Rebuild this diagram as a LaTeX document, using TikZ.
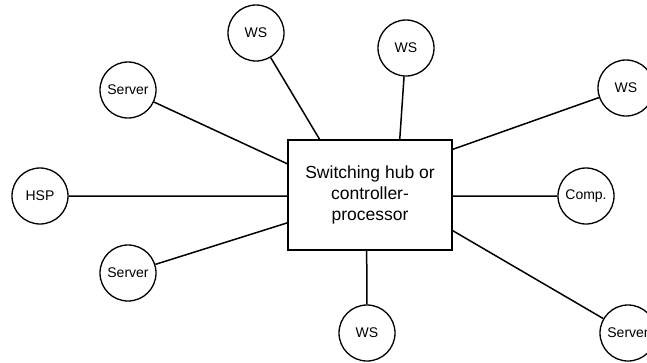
\documentclass[tikz,border=0pt]{standalone}
\usepackage{fontspec}
\setmainfont{Liberation Sans}
\usetikzlibrary{calc}
\tikzset{
  station/.style={draw, circle, line width=1.3pt, minimum size=56pt, inner sep=0pt,
                  font=\fontsize{14}{16}\selectfont},
  hubbox/.style={draw, rectangle, line width=1.3pt, minimum width=164pt, minimum height=110pt,
                 inner sep=0pt, align=center, font=\fontsize{17.5}{21}\selectfont},
  link/.style={line width=1.5pt}
}
\begin{document}
\begin{tikzpicture}[x=1pt, y=-1pt]
  \useasboundingbox (0,0) rectangle (647,362);

  % central hub
  \node[hubbox] (hub) at (370,195) {Switching hub or\\controller-\\processor};

  % attached stations
  \node[station] (wsA)  at (256,33)  {WS};
  \node[station] (srvA) at (128,90)  {Server};
  \node[station] (wsB)  at (406,48)  {WS};
  \node[station] (wsC)  at (626,88)  {WS};
  \node[station] (hsp)  at (40,196)  {HSP};
  \node[station] (comp) at (586,196) {Comp.};
  \node[station] (srvB) at (128,273) {Server};
  \node[station] (wsD)  at (367,333) {WS};
  \node[station] (srvC) at (628,333) {Server};

  % attachment points on the hub border
  \coordinate (tA) at ($(hub.north west)!0.195!(hub.north east)$);
  \coordinate (tB) at ($(hub.north west)!0.68!(hub.north east)$);
  \coordinate (lA) at ($(hub.north west)!0.22!(hub.south west)$);
  \coordinate (lB) at ($(hub.north west)!0.51!(hub.south west)$);
  \coordinate (lC) at ($(hub.north west)!0.75!(hub.south west)$);
  \coordinate (rA) at ($(hub.north east)!0.09!(hub.south east)$);
  \coordinate (rB) at ($(hub.north east)!0.51!(hub.south east)$);
  \coordinate (rC) at ($(hub.north east)!0.82!(hub.south east)$);
  \coordinate (bA) at ($(hub.south west)!0.48!(hub.south east)$);

  % links
  \draw[link] (wsA)  -- (tA);
  \draw[link] (wsB)  -- (tB);
  \draw[link] (srvA) -- (lA);
  \draw[link] (hsp)  -- (lB);
  \draw[link] (srvB) -- (lC);
  \draw[link] (wsC)  -- (rA);
  \draw[link] (comp) -- (rB);
  \draw[link] (srvC) -- (rC);
  \draw[link] (wsD)  -- (bA);
\end{tikzpicture}
\end{document}
